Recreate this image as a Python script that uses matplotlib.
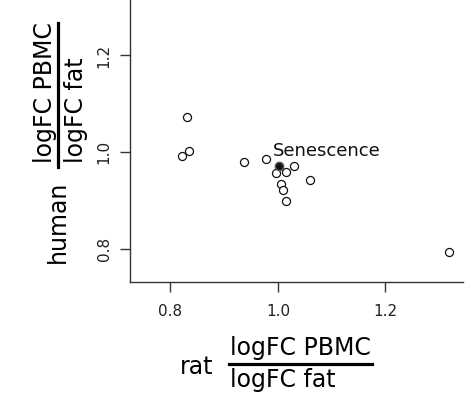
import matplotlib
matplotlib.use("Agg")
import matplotlib.pyplot as plt
from matplotlib.lines import Line2D

# Data: rat ratio (x) vs human ratio (y) of logFC PBMC / logFC fat
rat_ratio = [0.831, 0.834, 0.821, 0.936, 0.978, 1.002, 0.996, 1.014, 1.030,
             1.060, 1.006, 1.009, 1.014, 1.318]
human_ratio = [1.073, 1.002, 0.992, 0.979, 0.986, 0.972, 0.957, 0.959, 0.970,
               0.941, 0.934, 0.921, 0.898, 0.792]
highlight_index = 5
highlight_label = "Senescence"
x_ticks = [0.8, 1.0, 1.2]
y_ticks = [0.8, 1.0, 1.2]
x_ticklabels = ["0.8", "1.0", "1.2"]
y_ticklabels = ["0.8", "1.0", "1.2"]

W, H = 469, 396
DPI = 100
fig = plt.figure(figsize=(W / DPI, H / DPI), dpi=DPI)
plt.rcParams['font.family'] = ['DejaVu Sans']


def fx(px):
    return px / W


def fy(py):
    return 1 - py / H


ax = fig.add_axes([fx(130), fy(282), (463 - 130) / W, 282 / H])
ax.set_xlim(0.7247, 1.3442)
ax.set_ylim(0.7306, 1.3150)

ax.plot(rat_ratio, human_ratio, linestyle='none', marker='o', ms=5.8,
        mfc='white', mec='#111111', mew=0.9)
ax.plot([rat_ratio[highlight_index]], [human_ratio[highlight_index]],
        linestyle='none', marker='o', ms=5.8, mfc='#111111', mec='#555555', mew=1.0)
ax.annotate(highlight_label,
            xy=(rat_ratio[highlight_index], human_ratio[highlight_index]),
            xytext=(-4.8, 6.5), textcoords='offset points',
            ha='left', va='baseline', fontsize=13, color='#111111')

for s in ['top', 'right']:
    ax.spines[s].set_visible(False)
for s in ['left', 'bottom']:
    ax.spines[s].set_linewidth(1.0)
    ax.spines[s].set_color('#333333')

ax.set_xticks(x_ticks)
ax.set_xticklabels(x_ticklabels)
ax.set_yticks(y_ticks)
ax.set_yticklabels(y_ticklabels, rotation=90, va='center')
ax.tick_params(axis='both', direction='out', length=7.2, width=1.0,
               color='#333333', labelsize=11, labelcolor='#222222')
ax.tick_params(axis='x', pad=9.0)
ax.tick_params(axis='y', pad=6.0)

lab_fs = 17
# x label
fig.text(fx(180), fy(374), "rat", ha='left', va='baseline', fontsize=lab_fs)
fig.text(fx(230), fy(355), "logFC PBMC", ha='left', va='baseline', fontsize=lab_fs)
fig.text(fx(230), fy(387), "logFC fat", ha='left', va='baseline', fontsize=lab_fs)
fig.add_artist(Line2D([fx(229), fx(372)], [fy(363.5), fy(363.5)],
                      transform=fig.transFigure, color='black', lw=2.3))
# y label
fig.text(fx(65), fy(263), "human", ha='left', va='baseline', fontsize=lab_fs,
         rotation=90, rotation_mode='anchor')
fig.text(fx(52), fy(163), "logFC PBMC", ha='left', va='baseline', fontsize=lab_fs,
         rotation=90, rotation_mode='anchor')
fig.text(fx(83), fy(163), "logFC fat", ha='left', va='baseline', fontsize=lab_fs,
         rotation=90, rotation_mode='anchor')
fig.add_artist(Line2D([fx(58), fx(58)], [fy(167), fy(23)],
                      transform=fig.transFigure, color='black', lw=2.3))

fig.savefig("out.png", dpi=DPI)
